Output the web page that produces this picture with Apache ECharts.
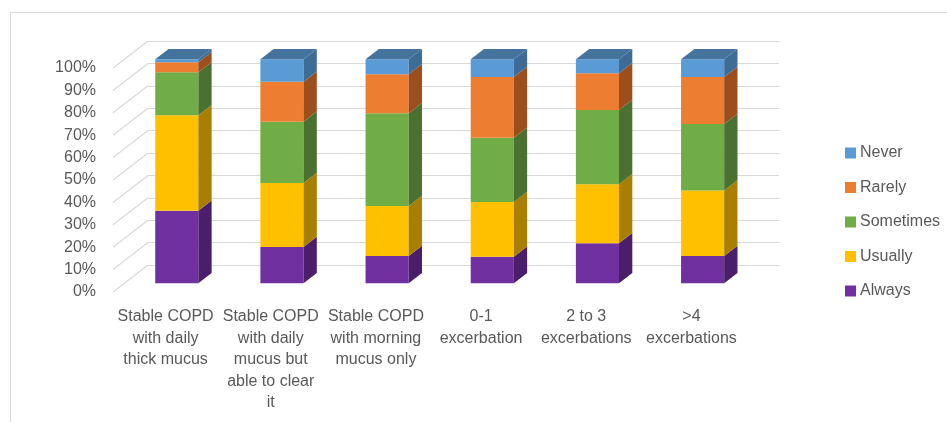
<!DOCTYPE html>
<html>
<head>
<meta charset="utf-8">
<script src="https://cdn.jsdelivr.net/npm/echarts@6/dist/echarts.min.js"></script>
<style>
  html, body { margin: 0; padding: 0; background: #fff; }
  #chart { width: 947px; height: 422px; }
</style>
</head>
<body>
<div id="chart"></div>
<script>
// categories (line breaks as in the original wrapping)
const categories = [
  'Stable COPD\nwith daily\nthick mucus',
  'Stable COPD\nwith daily\nmucus but\nable to clear\nit',
  'Stable COPD\nwith morning\nmucus only',
  '0-1\nexcerbation',
  '2 to 3\nexcerbations',
  '>4\nexcerbations'
];

// percent of answers per category
const always    = [32.4, 16.2, 12.2, 11.9, 17.9, 12.2];
const usually   = [42.7, 28.6, 22.3, 24.4, 26.3, 29.3];
const sometimes = [19.1, 27.4, 41.4, 28.7, 33.2, 29.6];
const rarely    = [4.5, 17.8, 17.4, 27.1, 16.4, 21.0];
const never     = [1.3, 10.0, 6.7, 7.9, 6.2, 7.9];

const yTicks = [0, 10, 20, 30, 40, 50, 60, 70, 80, 90, 100];

// stack order bottom -> top
const seriesDefs = [
  { name: 'Always', values: always, color: '#7030A0', side: '#4A1E6B' },
  { name: 'Usually', values: usually, color: '#FFC000', side: '#A87F00' },
  { name: 'Sometimes', values: sometimes, color: '#70AD47', side: '#4A7130' },
  { name: 'Rarely', values: rarely, color: '#ED7D31', side: '#9C4F1D' },
  { name: 'Never', values: never, color: '#5B9BD5', side: '#3D6C96', top: '#44739E' }
];

// 3D depth of the plot box (front plane -> back wall)
const DX = 35, DY = -27;
const FRONT = 0.32, BACK = 0.70;

const cum = categories.map(() => 0);
const boxSeries = seriesDefs.map((s, si) => {
  const data = s.values.map((v, i) => {
    const start = cum[i];
    cum[i] += v;
    return [i, start, cum[i]];
  });
  const isTop = si === seriesDefs.length - 1;
  return {
    name: s.name,
    type: 'custom',
    xAxisIndex: 0,
    yAxisIndex: 0,
    itemStyle: { color: s.color },
    encode: { x: 0, y: [1, 2] },
    data: data,
    z: 5,
    renderItem: function (params, api) {
      const b = api.coord([api.value(0), api.value(1)]);
      const t = api.coord([api.value(0), api.value(2)]);
      const bw = api.size([1, 0])[0] * 0.41;
      const fx = DX * FRONT, fy = DY * FRONT;
      const sdx = DX * (BACK - FRONT), sdy = DY * (BACK - FRONT);
      const x0 = b[0] - bw / 2 + fx, x1 = x0 + bw;
      const yb = b[1] + fy, yt = t[1] + fy;
      const children = [
        {
          type: 'rect',
          shape: { x: x0, y: yt, width: bw, height: yb - yt },
          style: { fill: s.color }
        },
        {
          type: 'polygon',
          shape: { points: [[x1, yb], [x1, yt], [x1 + sdx, yt + sdy], [x1 + sdx, yb + sdy]] },
          style: { fill: s.side }
        }
      ];
      if (isTop) {
        children.push({
          type: 'polygon',
          shape: { points: [[x0, yt], [x1, yt], [x1 + sdx, yt + sdy], [x0 + sdx, yt + sdy]] },
          style: { fill: s.top }
        });
      }
      return { type: 'group', children: children };
    }
  };
});

// left side-wall gridlines
const wallSeries = {
  type: 'custom',
  silent: true,
  xAxisIndex: 0,
  yAxisIndex: 0,
  z: 1,
  data: yTicks.map(v => [0, v]),
  renderItem: function (params, api) {
    const p = api.coord([api.value(0), api.value(1)]);
    const xl = p[0] - api.size([1, 0])[0] / 2;
    return {
      type: 'line',
      shape: { x1: xl, y1: p[1], x2: xl + DX, y2: p[1] + DY },
      style: { stroke: '#d9d9d9', lineWidth: 1.2 }
    };
  }
};

const chart = echarts.init(document.getElementById('chart'));
const textColor = '#595959';
const fontFamily = '"Liberation Sans", Arial, sans-serif';

chart.setOption({
  animation: false,
  textStyle: { fontFamily: fontFamily },
  graphic: [{
    type: 'rect',
    shape: { x: 10.5, y: 12.5, width: 1000, height: 600 },
    style: { fill: 'none', stroke: '#d9d9d9', lineWidth: 1 },
    silent: true
  }],
  legend: {
    orient: 'vertical',
    left: 845,
    top: 145,
    padding: 0,
    itemWidth: 11,
    itemHeight: 11,
    itemGap: 18.5,
    icon: 'rect',
    data: ['Never', 'Rarely', 'Sometimes', 'Usually', 'Always'],
    textStyle: { color: textColor, fontSize: 16, lineHeight: 16, padding: [0, 0, 0, -1] }
  },
  grid: [
    { left: 113, top: 68, width: 631, height: 224 },
    { left: 148, top: 41, width: 631, height: 224 }
  ],
  xAxis: [
    {
      type: 'category',
      gridIndex: 0,
      data: categories,
      axisLine: { show: false },
      axisTick: { show: false },
      axisLabel: {
        interval: 0,
        margin: 14,
        color: textColor,
        fontSize: 16,
        lineHeight: 21.5,
        align: 'center'
      }
    },
    {
      type: 'category',
      gridIndex: 1,
      data: categories,
      show: false
    }
  ],
  yAxis: [
    {
      type: 'value',
      gridIndex: 0,
      min: 0,
      max: 100,
      interval: 10,
      axisLine: { show: false },
      axisTick: { show: false },
      splitLine: { show: false },
      axisLabel: { margin: 17, color: textColor, fontSize: 16, formatter: '{value}%' }
    },
    {
      type: 'value',
      gridIndex: 1,
      min: 0,
      max: 100,
      interval: 10,
      axisLine: { show: false },
      axisTick: { show: false },
      axisLabel: { show: false },
      splitLine: { lineStyle: { color: '#d9d9d9', width: 1.2 } }
    }
  ],
  series: [wallSeries].concat(boxSeries)
});
</script>
</body>
</html>
